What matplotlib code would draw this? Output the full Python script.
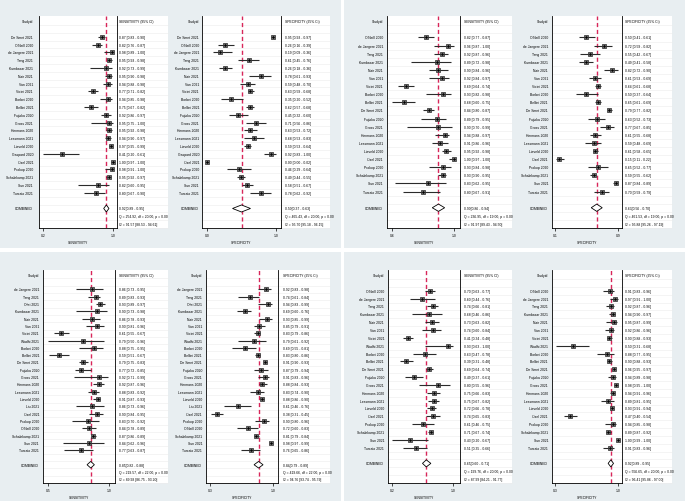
import matplotlib

matplotlib.use("Agg")
import matplotlib.pyplot as plt
from matplotlib.patches import Rectangle, Polygon

plt.rcParams["font.family"] = ["Liberation Sans", "DejaVu Sans"]

W, H = 685, 502

# * панель 1 (верх слева)
names_1 = ["De Smet 2021", "O'Neill 2020", "de Jaegere 2021", "Tang 2021", "Kumbasar 2021",
           "Nair 2021", "Van 2021", "Vicini 2021", "Borbei 2020", "Bellini 2021",
           "Fujioka 2020", "Gross 2021", "Hermans 2020", "Lessmann 2021", "Lieveld 2020",
           "Gaspard 2020", "Özel 2021", "Prokop 2020", "Schalekamp 2021", "Sun 2021",
           "Turcato 2021"]
sens_1 = [0.87, 0.82, 0.98, 0.95, 0.92, 0.95, 0.94, 0.77, 0.94, 0.75, 0.92,
          0.95, 0.95, 0.94, 0.97, 0.41, 1.00, 0.98, 0.95, 0.82, 0.80]
sens_1_lo = [0.83, 0.76, 0.89, 0.93, 0.73, 0.90, 0.88, 0.71, 0.85, 0.67, 0.86,
             0.75, 0.92, 0.90, 0.95, 0.20, 0.97, 0.91, 0.92, 0.60, 0.67]
sens_1_hi = [0.90, 0.87, 1.00, 0.98, 0.99, 0.98, 0.98, 0.82, 0.98, 0.82, 0.97,
             1.00, 0.98, 0.97, 0.99, 0.61, 1.00, 1.00, 0.97, 0.95, 0.90]
spec_1 = [0.95, 0.26, 0.19, 0.61, 0.26, 0.78, 0.59, 0.63, 0.35, 0.62, 0.45,
          0.71, 0.63, 0.68, 0.59, 0.92, 0.00, 0.46, 0.49, 0.58, 0.78]
spec_1_lo = [0.93, 0.16, 0.09, 0.45, 0.18, 0.61, 0.48, 0.59, 0.20, 0.57, 0.32,
             0.56, 0.53, 0.53, 0.53, 0.83, 0.00, 0.29, 0.44, 0.51, 0.62]
spec_1_hi = [0.97, 0.39, 0.36, 0.76, 0.36, 0.93, 0.70, 0.68, 0.52, 0.68, 0.60,
             0.86, 0.72, 0.83, 0.64, 1.00, 0.02, 0.64, 0.55, 0.67, 0.92]
pooled_1 = [(0.92, 0.89, 0.95), (0.50, 0.37, 0.63)]
stats_1 = [("Q = 254.92, df = 20.00, p = 0.00", "I2 = 91.57 [88.53 - 94.61]"),
           ("Q = 465.43, df = 20.00, p = 0.00", "I2 = 95.70 [95.18 - 96.15]")]

# * панель 2 (верх справа)
names_2 = ["O'Neill 2020", "de Jaegere 2021", "Tang 2021", "Kumbasar 2021", "Nair 2021",
           "Van 2021", "Vicini 2021", "Borbei 2020", "Bellini 2021", "De Smet 2021",
           "Fujioka 2020", "Gross 2021", "Hermans 2020", "Lessmann 2021", "Lieveld 2020",
           "Özel 2021", "Prokop 2020", "Schalekamp 2021", "Sun 2021", "Turcato 2021"]
sens_2 = [0.82, 0.96, 0.92, 0.89, 0.90, 0.92, 0.69, 0.93, 0.68, 0.84,
          0.89, 0.90, 0.94, 0.91, 0.95, 1.00, 0.93, 0.93, 0.83, 0.80]
sens_2_lo = [0.77, 0.87, 0.87, 0.72, 0.84, 0.84, 0.64, 0.82, 0.60, 0.80,
             0.79, 0.70, 0.88, 0.86, 0.92, 0.97, 0.84, 0.90, 0.62, 0.67]
sens_2_hi = [0.87, 1.00, 0.96, 0.98, 0.96, 0.97, 0.74, 0.98, 0.75, 0.87,
             0.95, 0.99, 0.97, 0.96, 0.98, 1.00, 0.98, 0.95, 0.95, 0.91]
spec_2 = [0.50, 0.72, 0.55, 0.49, 0.82, 0.61, 0.64, 0.50, 0.65, 0.79,
          0.63, 0.77, 0.61, 0.59, 0.61, 0.15, 0.65, 0.59, 0.87, 0.70]
spec_2_lo = [0.41, 0.59, 0.42, 0.41, 0.72, 0.53, 0.61, 0.37, 0.61, 0.77,
             0.52, 0.67, 0.55, 0.48, 0.58, 0.11, 0.52, 0.55, 0.84, 0.59]
spec_2_hi = [0.61, 0.82, 0.67, 0.58, 0.90, 0.69, 0.68, 0.64, 0.69, 0.82,
             0.73, 0.85, 0.68, 0.69, 0.65, 0.22, 0.77, 0.62, 0.89, 0.79]
pooled_2 = [(0.90, 0.86, 0.94), (0.63, 0.56, 0.70)]
stats_2 = [("Q = 236.95, df = 19.00, p = 0.00", "I2 = 91.97 [89.43 - 94.50]"),
           ("Q = 461.53, df = 19.00, p = 0.00", "I2 = 95.88 [95.26 - 97.19]")]

# * панель 3 (низ слева)
names_3 = ["de Jaegere 2021", "Tang 2021", "Ohri 2021", "Kumbasar 2021", "Nair 2021",
           "Van 2021", "Vicini 2021", "Wadhi 2021", "Borbei 2020", "Bellini 2021",
           "De Smet 2021", "Fujioka 2020", "Gross 2021", "Hermans 2020", "Lessmann 2021",
           "Lieveld 2020", "Liu 2021", "Özel 2021", "Prokop 2020", "O'Neill 2020",
           "Schalekamp 2021", "Sun 2021", "Turcato 2021"]
sens_3 = [0.86, 0.89, 0.93, 0.90, 0.86, 0.90, 0.61, 0.79, 0.88, 0.59, 0.79, 0.77,
          0.92, 0.92, 0.88, 0.91, 0.86, 0.90, 0.83, 0.84, 0.87, 0.84, 0.77]
sens_3_lo = [0.73, 0.83, 0.89, 0.73, 0.78, 0.81, 0.55, 0.50, 0.75, 0.51, 0.75, 0.72,
             0.71, 0.87, 0.83, 0.87, 0.73, 0.84, 0.70, 0.78, 0.86, 0.62, 0.63]
sens_3_hi = [0.95, 0.93, 0.97, 0.98, 0.93, 0.96, 0.67, 0.96, 0.95, 0.67, 0.83, 0.85,
             0.99, 0.96, 0.92, 0.93, 0.96, 0.95, 0.92, 0.89, 0.89, 0.96, 0.87]
spec_3 = [0.92, 0.74, 0.94, 0.69, 0.93, 0.85, 0.83, 0.79, 0.69, 0.83, 0.91, 0.87,
          0.91, 0.88, 0.83, 0.88, 0.61, 0.38, 0.90, 0.72, 0.81, 0.98, 0.76]
spec_3_lo = [0.83, 0.61, 0.83, 0.60, 0.85, 0.79, 0.79, 0.61, 0.55, 0.80, 0.90, 0.79,
             0.83, 0.84, 0.74, 0.86, 0.46, 0.31, 0.80, 0.60, 0.79, 0.97, 0.65]
spec_3_hi = [0.98, 0.84, 0.99, 0.76, 0.99, 0.91, 0.86, 0.92, 0.81, 0.86, 0.93, 0.94,
             0.96, 0.93, 0.90, 0.90, 0.76, 0.45, 0.96, 0.83, 0.84, 0.99, 0.86]
pooled_3 = [(0.85, 0.82, 0.88), (0.84, 0.79, 0.89)]
stats_3 = [("Q = 219.57, df = 22.00, p = 0.00", "I2 = 89.98 [86.75 - 93.20]"),
           ("Q = 419.66, df = 22.00, p = 0.00", "I2 = 94.76 [93.74 - 95.79]")]

# * панель 4 (низ справа)
names_4 = ["O'Neill 2020", "de Jaegere 2021", "Tang 2021", "Kumbasar 2021", "Nair 2021",
           "Van 2021", "Vicini 2021", "Wadhi 2021", "Borbei 2020", "Bellini 2021",
           "De Smet 2021", "Fujioka 2020", "Gross 2021", "Hermans 2020", "Lessmann 2021",
           "Lieveld 2020", "Özel 2021", "Prokop 2020", "Schalekamp 2021", "Sun 2021",
           "Turcato 2021"]
sens_4 = [0.70, 0.60, 0.74, 0.68, 0.73, 0.74, 0.41, 0.93, 0.63, 0.39, 0.69,
          0.49, 0.80, 0.75, 0.75, 0.72, 0.74, 0.61, 0.71, 0.43, 0.51]
sens_4_lo = [0.63, 0.44, 0.66, 0.46, 0.63, 0.60, 0.34, 0.63, 0.47, 0.31, 0.64,
             0.37, 0.55, 0.66, 0.67, 0.66, 0.65, 0.46, 0.67, 0.20, 0.35]
sens_4_hi = [0.77, 0.76, 0.81, 0.86, 0.82, 0.84, 0.48, 1.00, 0.78, 0.48, 0.74,
             0.61, 0.96, 0.83, 0.82, 0.78, 0.83, 0.75, 0.74, 0.67, 0.66]
spec_4 = [0.91, 0.97, 0.92, 0.94, 0.95, 0.92, 0.90, 0.50, 0.88, 0.90, 0.96,
          0.94, 0.98, 0.94, 0.89, 0.93, 0.47, 0.94, 0.89, 1.00, 0.91]
spec_4_lo = [0.83, 0.91, 0.87, 0.90, 0.87, 0.86, 0.88, 0.31, 0.77, 0.88, 0.95,
             0.89, 0.95, 0.91, 0.81, 0.91, 0.40, 0.85, 0.87, 0.99, 0.83]
spec_4_hi = [0.96, 1.00, 0.96, 0.97, 0.99, 0.96, 0.93, 0.68, 0.95, 0.93, 0.97,
             0.98, 1.00, 0.96, 0.95, 0.94, 0.54, 0.98, 0.92, 1.00, 0.96]
pooled_4 = [(0.65, 0.60, 0.71), (0.92, 0.89, 0.95)]
stats_4 = [("Q = 199.76, df = 20.00, p = 0.00", "I2 = 87.99 [84.21 - 91.77]"),
           ("Q = 556.65, df = 20.00, p = 0.00", "I2 = 96.41 [95.86 - 97.00]")]

BG = "#e8eef1"
RED = "#d8265a"
FS = 2.4


def px_rect(x0, y0, x1, y1):
    return [x0 / W, 1 - y1 / H, (x1 - x0) / W, (y1 - y0) / H]


def forest(fig, box, xlim, ticks, names, est, lo, hi, pooled, stats, measure):
    left, right, top, bottom, lab_x, txt_x, white_x = box
    n = len(names)
    # * белая подложка под графиком и колонкой текста
    fig.patches.append(Rectangle((left / W, 1 - bottom / H), (white_x - left) / W,
                                 (bottom - top) / H, transform=fig.transFigure,
                                 facecolor="white", edgecolor="none", zorder=-1))
    ax = fig.add_axes(px_rect(left, top, right, bottom))
    ax.set_facecolor("none")
    ax.set_xlim(*xlim)
    ax.set_ylim(n + 5.5, -0.65)
    width = right - left
    tr = ax.get_yaxis_transform()
    ax_lab = (lab_x - left) / width
    ax_txt = (txt_x - left) / width
    ax_white = (white_x - left) / width

    for r in range(n + 6):
        ax.plot([0, ax_white], [r + 0.5, r + 0.5], transform=tr, color="#ececec",
                lw=0.4, clip_on=False, zorder=0)

    ax.axvline(pooled[0], color=RED, lw=1.0, ls=(0, (3, 2)), zorder=1)

    rows = list(range(2, n + 2))
    ax.hlines(rows, lo, hi, color="#2b2b2b", lw=0.8, zorder=2)
    ax.plot(est, rows, "s", ms=3.2, mfc="#9c9c9c", mec="#222222", mew=0.5, zorder=3)
    ax.plot(est, rows, "o", ms=0.9, color="black", zorder=4)

    ax.text(ax_lab, 0, "Studyid", transform=tr, ha="right", va="center", fontsize=FS)
    ax.text(ax_txt, 0, f"{measure} (95% CI)", transform=tr, ha="left", va="center",
            fontsize=FS)
    for r, name, e, l, h in zip(rows, names, est, lo, hi):
        ax.text(ax_lab, r, name, transform=tr, ha="right", va="center", fontsize=FS)
        ax.text(ax_txt, r, f"{e:.2f} [{l:.2f} - {h:.2f}]", transform=tr, ha="left",
                va="center", fontsize=FS)

    # * комбинированная оценка
    yc = n + 3
    pe, pl, ph = pooled
    ax.add_patch(Polygon([(pl, yc), (pe, yc - 0.45), (ph, yc), (pe, yc + 0.45)],
                         closed=True, facecolor="white", edgecolor="black", lw=0.6,
                         zorder=4))
    ax.text(ax_lab, yc, "COMBINED", transform=tr, ha="right", va="center", fontsize=FS)
    ax.text(ax_txt, yc, f"{pe:.2f}[{pl:.2f} - {ph:.2f}]", transform=tr, ha="left",
            va="center", fontsize=FS)
    ax.text(ax_txt, yc + 1, stats[0], transform=tr, ha="left", va="center", fontsize=FS)
    ax.text(ax_txt, yc + 2, stats[1], transform=tr, ha="left", va="center", fontsize=FS)

    ax.set_yticks([])
    ax.set_xticks(ticks)
    ax.set_xticklabels([f"{t:.1f}" for t in ticks])
    ax.tick_params(axis="x", length=2, width=0.5, labelsize=FS, pad=1.5)
    ax.set_xlabel(measure, fontsize=FS, labelpad=2)
    ax.spines["top"].set_visible(False)
    for s in ["left", "right", "bottom"]:
        ax.spines[s].set_linewidth(0.6)
    return ax


fig = plt.figure(figsize=(W / 100, H / 100), dpi=100)
fig.patch.set_facecolor("white")

# * фон четырёх квадрантов
for x0, y0, x1, y1 in [(0, 0, 341, 249), (344, 0, 685, 249),
                       (0, 253, 341, 502), (344, 253, 685, 502)]:
    fig.patches.append(Rectangle((x0 / W, 1 - y1 / H), (x1 - x0) / W, (y1 - y0) / H,
                                 transform=fig.transFigure, facecolor=BG,
                                 edgecolor="none", zorder=-2))

forest(fig, (39, 117, 17, 229, 33, 119, 168), (0.151, 1.042), [0.2, 1.0],
       names_1, sens_1, sens_1_lo, sens_1_hi, pooled_1[0], stats_1[0], "SENSITIVITY")
forest(fig, (202, 281, 17, 229, 199, 285, 330), (-0.072, 1.072), [0.0, 1.0],
       names_1, spec_1, spec_1_lo, spec_1_hi, pooled_1[1], stats_1[1], "SPECIFICITY")
forest(fig, (387, 460, 17, 229, 383, 464, 512), (0.568, 1.039), [0.6, 1.0],
       names_2, sens_2, sens_2_lo, sens_2_hi, pooled_2[0], stats_2[0], "SENSITIVITY")
forest(fig, (552, 622, 17, 229, 548, 625, 672), (0.062, 0.951), [0.1, 0.9],
       names_2, spec_2, spec_2_lo, spec_2_hi, pooled_2[1], stats_2[1], "SPECIFICITY")
forest(fig, (43, 115, 271, 484, 39, 119, 168), (0.459, 1.049), [0.5, 1.0],
       names_3, sens_3, sens_3_lo, sens_3_hi, pooled_3[0], stats_3[0], "SENSITIVITY")
forest(fig, (206, 278, 271, 484, 202, 283, 330), (0.256, 1.056), [0.3, 1.0],
       names_3, spec_3, spec_3_lo, spec_3_hi, pooled_3[1], stats_3[1], "SPECIFICITY")
forest(fig, (388, 460, 271, 484, 384, 464, 512), (0.148, 1.092), [0.2, 1.0],
       names_4, sens_4, sens_4_lo, sens_4_hi, pooled_4[0], stats_4[0], "SENSITIVITY")
forest(fig, (552, 622, 271, 484, 548, 625, 672), (0.267, 1.044), [0.3, 1.0],
       names_4, spec_4, spec_4_lo, spec_4_hi, pooled_4[1], stats_4[1], "SPECIFICITY")

fig.savefig("out.png", dpi=100)
plt.close(fig)
